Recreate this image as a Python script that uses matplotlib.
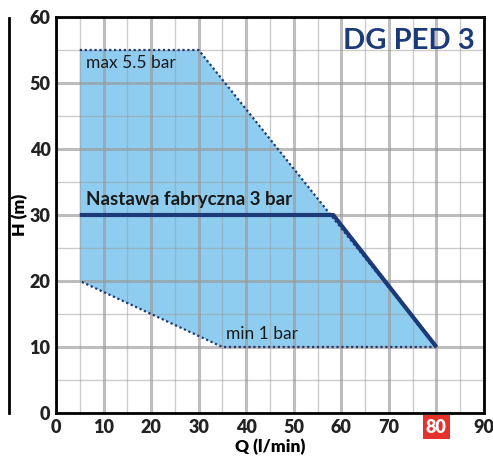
import matplotlib.pyplot as plt
from matplotlib.ticker import MultipleLocator

# obszar pracy pompy
area_q = [5, 30, 80, 35, 5]
area_h = [55, 55, 10, 10, 20]

# nastawa fabryczna 3 bar
set_q = [5, 58.3, 80]
set_h = [30, 30, 10]

x_ticks = [0, 10, 20, 30, 40, 50, 60, 70, 80, 90]
y_ticks = [0, 10, 20, 30, 40, 50, 60]

navy = '#1d3a78'
fill_col = '#8fcdf0'

plt.rcParams['font.family'] = ['Lato', 'DejaVu Sans']

fig = plt.figure(figsize=(4.93, 4.57), dpi=100)
ax = fig.add_axes([0.1136, 0.0963, 0.8681, 0.8665])

ax.fill(area_q, area_h, color=fill_col, zorder=1, lw=0)
# krawedzie kropkowane
ax.plot(area_q[:3], area_h[:3], color=navy, lw=1.6, dashes=(1, 1.2), zorder=3)
ax.plot(area_q[2:], area_h[2:], color=navy, lw=1.6, dashes=(1, 1.2), zorder=3)
ax.plot(set_q, set_h, '-', color=navy, lw=3, zorder=4, solid_capstyle='butt')

ax.set_xlim(0, 90)
ax.set_ylim(0, 60)
ax.set_xticks(x_ticks)
ax.set_yticks(y_ticks)
ax.xaxis.set_minor_locator(MultipleLocator(5))
ax.yaxis.set_minor_locator(MultipleLocator(5))
ax.set_axisbelow(False)
ax.grid(True, which='major', color='#9a9a9a', lw=2.2, alpha=0.65, zorder=2)
ax.grid(True, which='minor', color='#9a9a9a', lw=1.0, alpha=0.5, zorder=2)
ax.tick_params(which='both', length=0, labelsize=13, pad=4)
for lab in ax.get_xticklabels() + ax.get_yticklabels():
    lab.set_fontweight('heavy')
    lab.set_color('#222222')
for s in ax.spines.values():
    s.set_linewidth(2)
    s.set_zorder(5)

lab80 = ax.get_xticklabels()[8]
lab80.set_color('white')
lab80.set_bbox(dict(facecolor='#e5322d', edgecolor='none', pad=2.5))

ax.set_xlabel('Q (l/min)', fontsize=12.5, fontweight='heavy', labelpad=2)
ax.set_ylabel('H (m)', fontsize=12.5, fontweight='heavy', labelpad=1)

ax.text(88, 58.3, 'DG PED 3', color=navy, fontsize=21, fontweight='bold',
        ha='right', va='top', zorder=6)
ax.text(6.3, 54.2, 'max 5.5 bar', fontsize=12.5, va='top', color='#1a1a1a', zorder=6)
ax.text(6.3, 31.0, 'Nastawa fabryczna 3 bar', fontsize=13.5, fontweight='bold',
        va='bottom', color='#1a1a1a', zorder=6)
ax.text(35.7, 10.8, 'min 1 bar', fontsize=12.5, va='bottom', color='#1a1a1a', zorder=6)

# pionowa kreska z lewej
fig.add_artist(plt.Line2D([9 / 493, 9 / 493], [1 - 413 / 457, 1 - 18 / 457],
                          color='black', lw=2))

fig.savefig('out.png', dpi=100)
